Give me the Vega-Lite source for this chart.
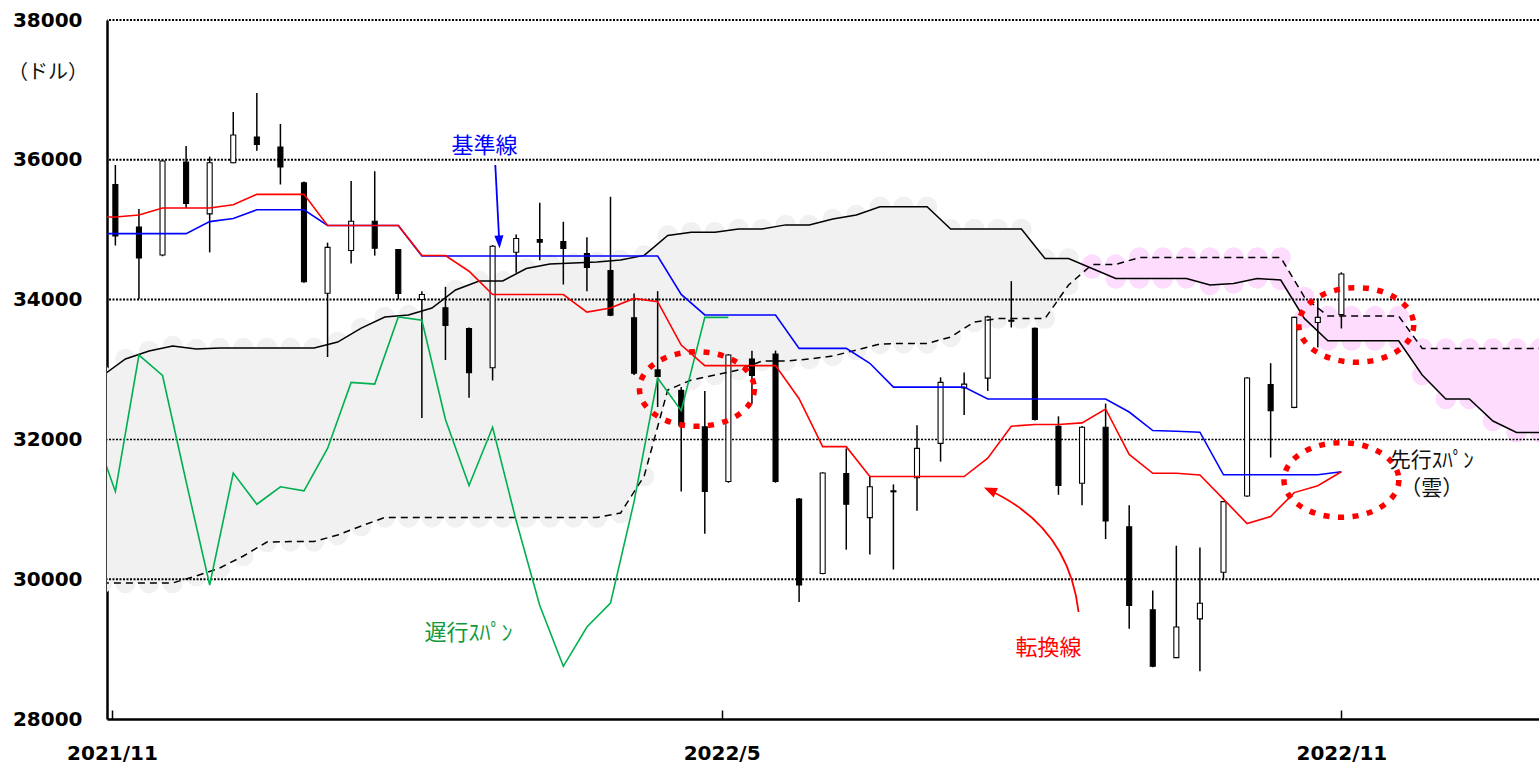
{
  "$schema": "https://vega.github.io/schema/vega-lite/v6.json",
  "width": 1432,
  "height": 699,
  "autosize": {"type": "none"},
  "padding": {"left": 107, "top": 20, "right": 0, "bottom": 44},
  "background": "white",
  "config": {"view": {"stroke": null}, "font": "DejaVu Sans"},
  "datasets": {
    "candles": [
      {"d":"2021-11-02","o":35647,"h":35926,"l":34774,"c":34911},
      {"d":"2021-11-09","o":35039,"h":35297,"l":34009,"c":34595},
      {"d":"2021-11-16","o":34638,"h":36000,"l":34620,"c":35983},
      {"d":"2021-11-23","o":35968,"h":36197,"l":35311,"c":35376},
      {"d":"2021-11-30","o":35227,"h":36046,"l":34675,"c":35957},
      {"d":"2021-12-07","o":35957,"h":36684,"l":35950,"c":36355},
      {"d":"2021-12-14","o":36326,"h":36955,"l":36130,"c":36219},
      {"d":"2021-12-21","o":36183,"h":36513,"l":35647,"c":35897},
      {"d":"2021-12-28","o":35671,"h":35690,"l":34240,"c":34256},
      {"d":"2022-01-04","o":34090,"h":34815,"l":33179,"c":34747},
      {"d":"2022-01-11","o":34702,"h":35697,"l":34516,"c":35121},
      {"d":"2022-01-18","o":35121,"h":35836,"l":34629,"c":34735},
      {"d":"2022-01-25","o":34717,"h":34720,"l":34001,"c":34087},
      {"d":"2022-02-01","o":34001,"h":34120,"l":32306,"c":34073},
      {"d":"2022-02-08","o":33883,"h":34183,"l":33136,"c":33629},
      {"d":"2022-02-15","o":33587,"h":33600,"l":32595,"c":32953},
      {"d":"2022-02-22","o":33024,"h":34780,"l":32843,"c":34764},
      {"d":"2022-03-01","o":34678,"h":34931,"l":34383,"c":34874},
      {"d":"2022-03-08","o":34860,"h":35385,"l":34564,"c":34821},
      {"d":"2022-03-15","o":34832,"h":35113,"l":34216,"c":34732},
      {"d":"2022-03-22","o":34660,"h":34893,"l":34120,"c":34460},
      {"d":"2022-03-29","o":34417,"h":35471,"l":33763,"c":33777},
      {"d":"2022-04-05","o":33740,"h":34087,"l":32921,"c":32947},
      {"d":"2022-04-12","o":32994,"h":34121,"l":32463,"c":32900},
      {"d":"2022-04-19","o":32701,"h":32751,"l":31256,"c":32203},
      {"d":"2022-04-26","o":32180,"h":32693,"l":30651,"c":31256},
      {"d":"2022-05-03","o":31398,"h":33220,"l":31380,"c":33207},
      {"d":"2022-05-10","o":33150,"h":33269,"l":32511,"c":32914},
      {"d":"2022-05-17","o":33222,"h":33270,"l":31380,"c":31398},
      {"d":"2022-05-24","o":31147,"h":31160,"l":29674,"c":29917},
      {"d":"2022-05-31","o":30082,"h":31530,"l":30070,"c":31519},
      {"d":"2022-06-07","o":31512,"h":31871,"l":30423,"c":31072},
      {"d":"2022-06-14","o":30881,"h":31479,"l":30352,"c":31322},
      {"d":"2022-06-21","o":31250,"h":31356,"l":30139,"c":31265},
      {"d":"2022-06-28","o":31452,"h":32203,"l":30978,"c":31871},
      {"d":"2022-07-05","o":31943,"h":32888,"l":31682,"c":32816},
      {"d":"2022-07-12","o":32735,"h":32957,"l":32350,"c":32791},
      {"d":"2022-07-19","o":32877,"h":33770,"l":32693,"c":33753},
      {"d":"2022-07-26","o":33690,"h":34265,"l":33601,"c":33705},
      {"d":"2022-08-02","o":33591,"h":33600,"l":32270,"c":32286},
      {"d":"2022-08-09","o":32189,"h":32330,"l":31207,"c":31341},
      {"d":"2022-08-16","o":31372,"h":32190,"l":31059,"c":32173},
      {"d":"2022-08-23","o":32173,"h":32512,"l":30574,"c":30835},
      {"d":"2022-08-30","o":30750,"h":31059,"l":29292,"c":29624},
      {"d":"2022-09-06","o":29562,"h":29837,"l":28740,"c":28754},
      {"d":"2022-09-13","o":28878,"h":30479,"l":28870,"c":29316},
      {"d":"2022-09-20","o":29433,"h":30455,"l":28684,"c":29657},
      {"d":"2022-09-27","o":30099,"h":31120,"l":30003,"c":31110},
      {"d":"2022-10-04","o":31190,"h":32890,"l":31180,"c":32878},
      {"d":"2022-10-11","o":32783,"h":33091,"l":31740,"c":32412},
      {"d":"2022-10-18","o":32458,"h":33755,"l":32445,"c":33745},
      {"d":"2022-10-25","o":33673,"h":34017,"l":33316,"c":33745},
      {"d":"2022-11-01","o":33785,"h":34390,"l":33587,"c":34366}
    ],
    "lines": [
      {"d":"2021-10-26","tenkan":35182,"kijun":34944,"chikou":32203},
      {"d":"2021-11-02","tenkan":35182,"kijun":34944,"chikou":31256},
      {"d":"2021-11-09","tenkan":35211,"kijun":34944,"chikou":33207},
      {"d":"2021-11-16","tenkan":35311,"kijun":34944,"chikou":32914},
      {"d":"2021-11-23","tenkan":35311,"kijun":34944,"chikou":31398},
      {"d":"2021-11-30","tenkan":35311,"kijun":35116,"chikou":29917},
      {"d":"2021-12-07","tenkan":35358,"kijun":35160,"chikou":31519},
      {"d":"2021-12-14","tenkan":35506,"kijun":35285,"chikou":31072},
      {"d":"2021-12-21","tenkan":35506,"kijun":35285,"chikou":31322},
      {"d":"2021-12-28","tenkan":35506,"kijun":35285,"chikou":31265},
      {"d":"2022-01-04","tenkan":35060,"kijun":35060,"chikou":31871},
      {"d":"2022-01-11","tenkan":35060,"kijun":35060,"chikou":32816},
      {"d":"2022-01-18","tenkan":35060,"kijun":35060,"chikou":32791},
      {"d":"2022-01-25","tenkan":35060,"kijun":35060,"chikou":33753},
      {"d":"2022-02-01","tenkan":34631,"kijun":34624,"chikou":33705},
      {"d":"2022-02-08","tenkan":34631,"kijun":34624,"chikou":32286},
      {"d":"2022-02-15","tenkan":34406,"kijun":34624,"chikou":31341},
      {"d":"2022-02-22","tenkan":34073,"kijun":34624,"chikou":32173},
      {"d":"2022-03-01","tenkan":34073,"kijun":34624,"chikou":30835},
      {"d":"2022-03-08","tenkan":34073,"kijun":34624,"chikou":29624},
      {"d":"2022-03-15","tenkan":34073,"kijun":34624,"chikou":28754},
      {"d":"2022-03-22","tenkan":33822,"kijun":34624,"chikou":29316},
      {"d":"2022-03-29","tenkan":33880,"kijun":34624,"chikou":29657},
      {"d":"2022-04-05","tenkan":34017,"kijun":34624,"chikou":31110},
      {"d":"2022-04-12","tenkan":33970,"kijun":34624,"chikou":32878},
      {"d":"2022-04-19","tenkan":33350,"kijun":34074,"chikou":32412},
      {"d":"2022-04-26","tenkan":33056,"kijun":33780,"chikou":33745},
      {"d":"2022-05-03","tenkan":33056,"kijun":33780,"chikou":33745},
      {"d":"2022-05-10","tenkan":33056,"kijun":33780},
      {"d":"2022-05-17","tenkan":33056,"kijun":33780},
      {"d":"2022-05-24","tenkan":32582,"kijun":33302},
      {"d":"2022-05-31","tenkan":31896,"kijun":33302},
      {"d":"2022-06-07","tenkan":31896,"kijun":33302},
      {"d":"2022-06-14","tenkan":31469,"kijun":33089},
      {"d":"2022-06-21","tenkan":31469,"kijun":32748},
      {"d":"2022-06-28","tenkan":31469,"kijun":32748},
      {"d":"2022-07-05","tenkan":31469,"kijun":32748},
      {"d":"2022-07-12","tenkan":31469,"kijun":32748},
      {"d":"2022-07-19","tenkan":31732,"kijun":32579},
      {"d":"2022-07-26","tenkan":32189,"kijun":32579},
      {"d":"2022-08-02","tenkan":32213,"kijun":32579},
      {"d":"2022-08-09","tenkan":32213,"kijun":32579},
      {"d":"2022-08-16","tenkan":32236,"kijun":32579},
      {"d":"2022-08-23","tenkan":32435,"kijun":32579},
      {"d":"2022-08-30","tenkan":31786,"kijun":32392},
      {"d":"2022-09-06","tenkan":31515,"kijun":32127},
      {"d":"2022-09-13","tenkan":31515,"kijun":32117},
      {"d":"2022-09-20","tenkan":31491,"kijun":32103},
      {"d":"2022-09-27","tenkan":31145,"kijun":31494},
      {"d":"2022-10-04","tenkan":30797,"kijun":31494},
      {"d":"2022-10-11","tenkan":30897,"kijun":31494},
      {"d":"2022-10-18","tenkan":31239,"kijun":31494},
      {"d":"2022-10-25","tenkan":31338,"kijun":31494},
      {"d":"2022-11-01","tenkan":31538,"kijun":31538}
    ],
    "cloud": [
      {"k":0,"d":"2021-10-29","a":32907,"b":29946,"kumo":"陽"},
      {"k":1,"d":"2021-11-05","a":33150,"b":29946,"kumo":"陽"},
      {"k":2,"d":"2021-11-12","a":33265,"b":29946,"kumo":"陽"},
      {"k":3,"d":"2021-11-19","a":33336,"b":29946,"kumo":"陽"},
      {"k":4,"d":"2021-11-26","a":33293,"b":30046,"kumo":"陽"},
      {"k":5,"d":"2021-12-03","a":33307,"b":30160,"kumo":"陽"},
      {"k":6,"d":"2021-12-10","a":33307,"b":30332,"kumo":"陽"},
      {"k":7,"d":"2021-12-17","a":33307,"b":30532,"kumo":"陽"},
      {"k":8,"d":"2021-12-24","a":33307,"b":30539,"kumo":"陽"},
      {"k":9,"d":"2021-12-31","a":33307,"b":30539,"kumo":"陽"},
      {"k":10,"d":"2022-01-07","a":33393,"b":30632,"kumo":"陽"},
      {"k":11,"d":"2022-01-14","a":33593,"b":30761,"kumo":"陽"},
      {"k":12,"d":"2022-01-21","a":33751,"b":30883,"kumo":"陽"},
      {"k":13,"d":"2022-01-28","a":33780,"b":30883,"kumo":"陽"},
      {"k":14,"d":"2022-02-04","a":33880,"b":30883,"kumo":"陽"},
      {"k":15,"d":"2022-02-11","a":34137,"b":30883,"kumo":"陽"},
      {"k":16,"d":"2022-02-18","a":34266,"b":30883,"kumo":"陽"},
      {"k":17,"d":"2022-02-25","a":34266,"b":30883,"kumo":"陽"},
      {"k":18,"d":"2022-03-04","a":34445,"b":30883,"kumo":"陽"},
      {"k":19,"d":"2022-03-11","a":34509,"b":30883,"kumo":"陽"},
      {"k":20,"d":"2022-03-18","a":34524,"b":30883,"kumo":"陽"},
      {"k":21,"d":"2022-03-25","a":34538,"b":30883,"kumo":"陽"},
      {"k":22,"d":"2022-04-01","a":34567,"b":30947,"kumo":"陽"},
      {"k":23,"d":"2022-04-08","a":34632,"b":31476,"kumo":"陽"},
      {"k":24,"d":"2022-04-15","a":34917,"b":32707,"kumo":"陽"},
      {"k":25,"d":"2022-04-22","a":34964,"b":32850,"kumo":"陽"},
      {"k":26,"d":"2022-04-29","a":34964,"b":32921,"kumo":"陽"},
      {"k":27,"d":"2022-05-06","a":35011,"b":32993,"kumo":"陽"},
      {"k":28,"d":"2022-05-13","a":35011,"b":33122,"kumo":"陽"},
      {"k":29,"d":"2022-05-20","a":35069,"b":33122,"kumo":"陽"},
      {"k":30,"d":"2022-05-27","a":35069,"b":33150,"kumo":"陽"},
      {"k":31,"d":"2022-06-03","a":35153,"b":33193,"kumo":"陽"},
      {"k":32,"d":"2022-06-10","a":35210,"b":33279,"kumo":"陽"},
      {"k":33,"d":"2022-06-17","a":35329,"b":33365,"kumo":"陽"},
      {"k":34,"d":"2022-06-24","a":35329,"b":33373,"kumo":"陽"},
      {"k":35,"d":"2022-07-01","a":35329,"b":33373,"kumo":"陽"},
      {"k":36,"d":"2022-07-08","a":35011,"b":33465,"kumo":"陽"},
      {"k":37,"d":"2022-07-15","a":35011,"b":33680,"kumo":"陽"},
      {"k":38,"d":"2022-07-22","a":35011,"b":33728,"kumo":"陽"},
      {"k":39,"d":"2022-07-29","a":35011,"b":33728,"kumo":"陽"},
      {"k":40,"d":"2022-08-05","a":34588,"b":33728,"kumo":"陽"},
      {"k":41,"d":"2022-08-12","a":34588,"b":34209,"kumo":"陽"},
      {"d":"2022-08-18T02:00:00Z","a":34466,"b":34466,"kumo":"陽"},
      {"d":"2022-08-18T02:00:00Z","a":34466,"b":34466,"kumo":"陰"},
      {"k":42,"d":"2022-08-19","a":34445,"b":34502,"kumo":"陰"},
      {"k":43,"d":"2022-08-26","a":34302,"b":34502,"kumo":"陰"},
      {"k":44,"d":"2022-09-02","a":34302,"b":34602,"kumo":"陰"},
      {"k":45,"d":"2022-09-09","a":34302,"b":34602,"kumo":"陰"},
      {"k":46,"d":"2022-09-16","a":34302,"b":34602,"kumo":"陰"},
      {"k":47,"d":"2022-09-23","a":34209,"b":34602,"kumo":"陰"},
      {"k":48,"d":"2022-09-30","a":34230,"b":34602,"kumo":"陰"},
      {"k":49,"d":"2022-10-07","a":34302,"b":34602,"kumo":"陰"},
      {"k":50,"d":"2022-10-14","a":34280,"b":34602,"kumo":"陰"},
      {"k":51,"d":"2022-10-21","a":33731,"b":34037,"kumo":"陰"},
      {"k":52,"d":"2022-10-28","a":33412,"b":33765,"kumo":"陰"},
      {"k":53,"d":"2022-11-04","a":33412,"b":33765,"kumo":"陰"},
      {"k":54,"d":"2022-11-11","a":33412,"b":33765,"kumo":"陰"},
      {"k":55,"d":"2022-11-18","a":33412,"b":33765,"kumo":"陰"},
      {"k":56,"d":"2022-11-25","a":32921,"b":33302,"kumo":"陰"},
      {"k":57,"d":"2022-12-02","a":32578,"b":33302,"kumo":"陰"},
      {"k":58,"d":"2022-12-09","a":32578,"b":33302,"kumo":"陰"},
      {"k":59,"d":"2022-12-16","a":32263,"b":33302,"kumo":"陰"},
      {"k":60,"d":"2022-12-23","a":32100,"b":33302,"kumo":"陰"},
      {"k":61,"d":"2022-12-30","a":32100,"b":33302,"kumo":"陰"}
    ],
    "grid": [{"v":30000},{"v":32000},{"v":34000},{"v":36000},{"v":38000}]
  },
  "layer": [
    {
      "data": {"name": "cloud"},
      "mark": {"type": "area", "clip": true, "opacity": 1},
      "encoding": {
        "x": {"field": "d", "type": "temporal", "title": null,
          "scale": {"type": "utc", "nice": false, "domain": [{"year":2021,"month":11,"date":1,"utc":true},{"year":2022,"month":12,"date":28,"hours":4,"minutes":30,"utc":true}]},
          "axis": {"values": [{"year":2021,"month":11,"date":1,"utc":true},{"year":2022,"month":5,"date":1,"utc":true},{"year":2022,"month":11,"date":1,"utc":true}],
            "format": "%Y/%-m", "labelFont": "DejaVu Sans", "labelFontWeight": "bold", "labelFontSize": 20, "labelColor": "black",
            "labelBaseline": "top", "labelPadding": 33, "labelFlush": false, "labelOverlap": false,
            "ticks": true, "tickSize": -9, "tickColor": "black", "tickWidth": 1.5,
            "domainColor": "black", "domainWidth": 2.5, "grid": false, "title": null}},
        "y": {"field": "a", "type": "quantitative", "title": null,
          "scale": {"domain": [28000, 38000], "nice": false, "zero": false},
          "axis": {"values": [28000, 30000, 32000, 34000, 36000, 38000], "format": "d",
            "labelFont": "DejaVu Sans", "labelFontWeight": "bold", "labelFontSize": 20, "labelColor": "black",
            "labelPadding": 25, "labelFlush": false, "labelOverlap": false, "ticks": false,
            "domainColor": "black", "domainWidth": 2.5, "grid": false, "title": null}},
        "y2": {"field": "b"},
        "color": {"field": "kumo", "type": "nominal", "scale": {"domain": ["陽", "陰"], "range": ["#f1f1f1", "#fddcfd"]}, "legend": null}
      }
    },
    {
      "data": {"name": "cloud"},
      "transform": [{"filter": "isValid(datum.k)"}, {"fold": ["a", "b"], "as": ["span", "v"]}],
      "mark": {"type": "circle", "clip": true, "opacity": 1, "size": 420},
      "encoding": {
        "x": {"field": "d", "type": "temporal", "title": null},
        "y": {"field": "v", "type": "quantitative", "title": null},
        "color": {"field": "kumo", "type": "nominal", "legend": null}
      }
    },
    {
      "data": {"name": "grid"},
      "mark": {"type": "rule", "color": "black", "strokeDash": [2, 1.5]},
      "encoding": {
        "y": {"field": "v", "type": "quantitative", "title": null},
        "strokeWidth": {"condition": {"test": "datum.v == 32000", "value": 1.5}, "value": 2}
      }
    },
    {
      "data": {"name": "candles"},
      "mark": {"type": "rule", "color": "black", "strokeWidth": 1.5, "clip": true},
      "encoding": {
        "x": {"field": "d", "type": "temporal", "title": null},
        "y": {"field": "l", "type": "quantitative", "title": null},
        "y2": {"field": "h"}
      }
    },
    {
      "data": {"name": "candles"},
      "mark": {"type": "bar", "width": 5, "stroke": "black", "strokeWidth": 1.1, "clip": true},
      "encoding": {
        "x": {"field": "d", "type": "temporal", "title": null},
        "y": {"field": "o", "type": "quantitative", "title": null},
        "y2": {"field": "c"},
        "fill": {"condition": {"test": "datum.o > datum.c", "value": "black"}, "value": "white"}
      }
    },
    {
      "data": {"name": "cloud"},
      "transform": [{"filter": "isValid(datum.k)"}],
      "mark": {"type": "line", "color": "black", "strokeWidth": 1.5, "strokeDash": [7, 5], "clip": true},
      "encoding": {
        "x": {"field": "d", "type": "temporal", "title": null},
        "y": {"field": "b", "type": "quantitative", "title": null}
      }
    },
    {
      "data": {"name": "cloud"},
      "transform": [{"filter": "isValid(datum.k)"}],
      "mark": {"type": "line", "color": "black", "strokeWidth": 1.5, "clip": true},
      "encoding": {
        "x": {"field": "d", "type": "temporal", "title": null},
        "y": {"field": "a", "type": "quantitative", "title": null}
      }
    },
    {
      "data": {"name": "lines"},
      "transform": [{"filter": "isValid(datum.chikou)"}],
      "mark": {"type": "line", "color": "#00b050", "strokeWidth": 1.6, "clip": true},
      "encoding": {
        "x": {"field": "d", "type": "temporal", "title": null},
        "y": {"field": "chikou", "type": "quantitative", "title": null}
      }
    },
    {
      "data": {"name": "lines"},
      "mark": {"type": "line", "color": "#0000ff", "strokeWidth": 1.6, "clip": true},
      "encoding": {
        "x": {"field": "d", "type": "temporal", "title": null},
        "y": {"field": "kijun", "type": "quantitative", "title": null}
      }
    },
    {
      "data": {"name": "lines"},
      "mark": {"type": "line", "color": "#ff0000", "strokeWidth": 1.6, "clip": true},
      "encoding": {
        "x": {"field": "d", "type": "temporal", "title": null},
        "y": {"field": "tenkan", "type": "quantitative", "title": null}
      }
    },
    {
      "data": {"values": [{}]},
      "mark": {"type": "point", "shape": "M1,0 C1,0.3584 0.5523,0.649 0,0.649 C-0.5523,0.649 -1,0.3584 -1,0 C-1,-0.3584 -0.5523,-0.649 0,-0.649 C0.5523,-0.649 1,-0.3584 1,0 Z", "size": 13200, "filled": false, "color": "#ff0000", "strokeWidth": 5.5, "strokeDash": [6, 8.5], "opacity": 1},
      "encoding": {
        "x": {"datum": {"year":2022,"month":4,"date":23,"hours":15,"minutes":36,"utc":true}, "type": "temporal"},
        "y": {"datum": 32721, "type": "quantitative"}
      }
    },
    {
      "data": {"values": [{}]},
      "mark": {"type": "point", "shape": "M1,0 C1,0.3584 0.5523,0.649 0,0.649 C-0.5523,0.649 -1,0.3584 -1,0 C-1,-0.3584 -0.5523,-0.649 0,-0.649 C0.5523,-0.649 1,-0.3584 1,0 Z", "size": 13200, "filled": false, "color": "#ff0000", "strokeWidth": 5.5, "strokeDash": [6, 8.5], "opacity": 1},
      "encoding": {
        "x": {"datum": {"year":2022,"month":11,"date":5,"hours":10,"utc":true}, "type": "temporal"},
        "y": {"datum": 33637, "type": "quantitative"}
      }
    },
    {
      "data": {"values": [{}]},
      "mark": {"type": "point", "shape": "M1,0 C1,0.3584 0.5523,0.649 0,0.649 C-0.5523,0.649 -1,0.3584 -1,0 C-1,-0.3584 -0.5523,-0.649 0,-0.649 C0.5523,-0.649 1,-0.3584 1,0 Z", "size": 13200, "filled": false, "color": "#ff0000", "strokeWidth": 5.5, "strokeDash": [6, 8.5], "opacity": 1},
      "encoding": {
        "x": {"datum": {"year":2022,"month":11,"date":1,"utc":true}, "type": "temporal"},
        "y": {"datum": 31419, "type": "quantitative"}
      }
    },
    {
      "data": {"values": [{}]},
      "mark": {"type": "point", "shape": "M0.742,1 Q0.581,-0.395 -0.742,-0.984", "size": 15376, "filled": false, "color": "#ff0000", "strokeWidth": 1.8, "opacity": 1},
      "encoding": {
        "x": {"datum": {"year":2022,"month":8,"date":1,"hours":7,"minutes":26,"utc":true}, "type": "temporal"},
        "y": {"datum": 30418, "type": "quantitative"}
      }
    },
    {
      "data": {"values": [{}]},
      "mark": {"type": "point", "shape": "M0,0 L-0.4,1 L0.4,1 Z", "size": 676, "filled": true, "color": "#ff0000", "angle": 294, "opacity": 1},
      "encoding": {
        "x": {"datum": {"year":2022,"month":7,"date":17,"hours":20,"minutes":38,"utc":true}, "type": "temporal"},
        "y": {"datum": 31312, "type": "quantitative"}
      }
    },
    {
      "data": {"values": [{}]},
      "mark": {"type": "rule", "color": "#0000ff", "strokeWidth": 1.8},
      "encoding": {
        "x": {"datum": {"year":2022,"month":2,"date":22,"hours":19,"minutes":12,"utc":true}, "type": "temporal"},
        "x2": {"datum": {"year":2022,"month":2,"date":23,"hours":23,"minutes":31,"utc":true}},
        "y": {"datum": 35926, "type": "quantitative"},
        "y2": {"datum": 34824}
      }
    },
    {
      "data": {"values": [{}]},
      "mark": {"type": "point", "shape": "M0,0 L-0.35,1 L0.35,1 Z", "size": 676, "filled": true, "color": "#0000ff", "angle": 177, "opacity": 1},
      "encoding": {
        "x": {"datum": {"year":2022,"month":2,"date":24,"hours":1,"minutes":41,"utc":true}, "type": "temporal"},
        "y": {"datum": 34731, "type": "quantitative"}
      }
    },
    {
      "data": {"values": [{}]},
      "mark": {"type": "text", "text": "基準線", "font": "Noto Sans CJK JP", "fontSize": 22, "color": "#0000ff", "align": "center", "baseline": "middle"},
      "encoding": {
        "x": {"datum": {"year":2022,"month":2,"date":19,"hours":13,"minutes":27,"utc":true}, "type": "temporal"},
        "y": {"datum": 36197, "type": "quantitative"}
      }
    },
    {
      "data": {"values": [{}]},
      "mark": {"type": "text", "text": "遅行ｽﾊﾟﾝ", "font": "Noto Sans CJK JP", "fontSize": 22, "color": "#109a3c", "align": "center", "baseline": "middle"},
      "encoding": {
        "x": {"datum": {"year":2022,"month":2,"date":14,"hours":20,"minutes":10,"utc":true}, "type": "temporal"},
        "y": {"datum": 29230, "type": "quantitative"}
      }
    },
    {
      "data": {"values": [{}]},
      "mark": {"type": "text", "text": "転換線", "font": "Noto Sans CJK JP", "fontSize": 22, "color": "#ff0000", "align": "center", "baseline": "middle"},
      "encoding": {
        "x": {"datum": {"year":2022,"month":8,"date":6,"hours":0,"minutes":30,"utc":true}, "type": "temporal"},
        "y": {"datum": 29016, "type": "quantitative"}
      }
    },
    {
      "data": {"values": [{}]},
      "mark": {"type": "text", "text": "先行ｽﾊﾟﾝ", "font": "Noto Sans CJK JP", "fontSize": 21, "color": "#111111", "align": "center", "baseline": "middle"},
      "encoding": {
        "x": {"datum": {"year":2022,"month":11,"date":27,"hours":20,"utc":true}, "type": "temporal"},
        "y": {"datum": 31690, "type": "quantitative"}
      }
    },
    {
      "data": {"values": [{}]},
      "mark": {"type": "text", "text": "（雲）", "font": "Noto Sans CJK JP", "fontSize": 21, "color": "#111111", "align": "center", "baseline": "middle"},
      "encoding": {
        "x": {"datum": {"year":2022,"month":11,"date":27,"hours":20,"utc":true}, "type": "temporal"},
        "y": {"datum": 31285, "type": "quantitative"}
      }
    },
    {
      "data": {"values": [{}]},
      "mark": {"type": "text", "text": "（ドル）", "font": "Noto Sans CJK JP", "fontSize": 20, "color": "#111111", "align": "center", "baseline": "middle", "dx": -64},
      "encoding": {
        "x": {"datum": {"year":2021,"month":11,"date":1,"utc":true}, "type": "temporal"},
        "y": {"datum": 37242, "type": "quantitative"}
      }
    }
  ]
}
